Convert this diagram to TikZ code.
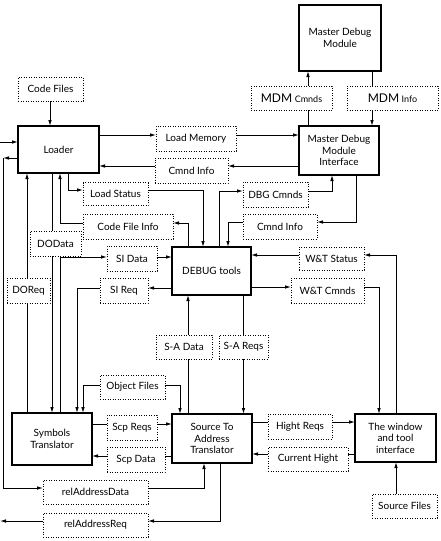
\documentclass[tikz,border=0pt]{standalone}
\usepackage{fontspec}
\setmainfont{Lato}
\usetikzlibrary{arrows.meta}
\begin{document}
\begin{tikzpicture}[x=1pt,y=-1pt,
  solidbox/.style={draw,line width=1.1pt,inner sep=0pt,outer sep=0pt,align=center,font=\fontsize{10}{11.5}\selectfont},
  dotbox/.style={draw,line width=0.8pt,dash pattern=on 0.8pt off 1.7pt,inner sep=0pt,outer sep=0pt,align=center,font=\fontsize{10}{12}\selectfont},
  conn/.style={line width=0.9pt},
  arr/.style={conn,-{Latex[length=6pt,width=3.6pt]}}]
\useasboundingbox (0,0) rectangle (440,541);
% solid boxes
\node[solidbox,line width=2.6pt,minimum width=82pt,minimum height=66pt] (mdm) at (340,38) {Master Debug\\Module};
\node[solidbox,minimum width=80pt,minimum height=49pt] (mdmi) at (339,150.5) {Master Debug\\Module\\Interface};
\node[solidbox,minimum width=81pt,minimum height=47pt] (loader) at (58.5,149.5) {Loader};
\node[solidbox,minimum width=79pt,minimum height=48pt] (debug) at (211.5,271) {DEBUG tools};
\node[solidbox,minimum width=80pt,minimum height=52pt] (symb) at (52,439) {Symbols\\Translator};
\node[solidbox,minimum width=80pt,minimum height=49pt] (sat) at (212,438.5) {Source To\\Address\\Translator};
\node[solidbox,minimum width=81pt,minimum height=48pt] (win) at (395.5,438) {The window\\and tool\\interface};
% dotted boxes
\node[dotbox,minimum width=65pt,minimum height=24pt] (codefiles) at (50.5,89) {Code Files};
\node[dotbox,minimum width=81pt,minimum height=24pt] (mdmcmnds) at (291.5,98) {{\large MDM} {\small Cmnds}};
\node[dotbox,minimum width=91pt,minimum height=24pt] (mdminfo) at (392.5,98) {{\large MDM} {\small Info}};
\node[dotbox,minimum width=80pt,minimum height=25pt] (loadmem) at (196,138.5) {Load Memory};
\node[dotbox,minimum width=73pt,minimum height=25pt] (cmndinfoA) at (191.5,170.5) {Cmnd Info};
\node[dotbox,minimum width=65pt,minimum height=23pt] (loadstatus) at (115.5,194) {Load Status};
\node[dotbox,minimum width=90pt,minimum height=25pt] (codefileinfo) at (128,226.5) {Code File Info};
\node[dotbox,minimum width=65pt,minimum height=25pt] (dbgcmnds) at (275.5,194.5) {DBG Cmnds};
\node[dotbox,minimum width=74pt,minimum height=25pt] (cmndinfoB) at (280,226.5) {Cmnd Info};
\node[dotbox,minimum width=51pt,minimum height=25pt] (dodata) at (55.5,243.5) {DOData};
\node[dotbox,minimum width=50pt,minimum height=25pt] (sidata) at (132,258.5) {SI Data};
\node[dotbox,minimum width=48pt,minimum height=25pt] (sireq) at (124,290.5) {SI Req};
\node[dotbox,minimum width=43pt,minimum height=25pt] (doreq) at (28.5,290.5) {DOReq};
\node[dotbox,minimum width=65pt,minimum height=23pt] (wtstatus) at (331.5,258.5) {W\&T Status};
\node[dotbox,minimum width=73pt,minimum height=25pt] (wtcmnds) at (327.5,290.5) {W\&T Cmnds};
\node[dotbox,minimum width=56pt,minimum height=24pt] (sadata) at (184,347) {S-A Data};
\node[dotbox,minimum width=49pt,minimum height=24pt] (sareqs) at (243.5,347) {S-A Reqs};
\node[dotbox,minimum width=65pt,minimum height=24pt] (objfiles) at (132.5,387) {Object Files};
\node[dotbox,minimum width=50pt,minimum height=25pt] (scpreqs) at (132,427.5) {Scp Reqs};
\node[dotbox,minimum width=58pt,minimum height=25pt] (scpdata) at (136,459.5) {Scp Data};
\node[dotbox,minimum width=105pt,minimum height=24pt] (reldata) at (95.5,492) {relAddressData};
\node[dotbox,minimum width=105pt,minimum height=24pt] (relreq) at (95.5,525) {relAddressReq};
\node[dotbox,minimum width=64pt,minimum height=25pt] (hightreqs) at (300,426.5) {Hight Reqs};
\node[dotbox,minimum width=80pt,minimum height=24pt] (currhight) at (308,459) {Current Hight};
\node[dotbox,minimum width=65pt,minimum height=24pt] (srcfiles) at (404.5,506) {Source Files};
% free ends
\coordinate (inL) at (0,142);
\coordinate (outL) at (0,521);
\coordinate (lcorner) at (3,158);
% connectors
\draw[arr] (codefiles.south -| 50,0) -- (loader.north -| 50,0);
\draw[arr] (inL) -- (loader.west |- inL);
\draw[arr] (loader.west |- lcorner) -- (lcorner);
\draw[arr] (lcorner) |- (reldata.west |- 0,488);
\draw[arr] (reldata.east |- 0,488) -| (sat.south -| 204,0);
\draw[arr] (sat.south -| 220,0) |- (relreq.east |- 0,521);
\draw[arr] (relreq.west |- outL) -- (outL);
\draw[arr] (loader.east |- 0,135) -- (loadmem.west |- 0,135);
\draw[arr] (loadmem.east |- 0,135) -- (mdmi.west |- 0,135);
\draw[arr] (mdmi.west |- 0,166) -- (cmndinfoA.east |- 0,166);
\draw[arr] (cmndinfoA.west |- 0,166) -- (loader.east |- 0,166);
\draw[conn] (mdmi.north -| 308,0) -- (mdmcmnds.south -| 308,0);
\draw[arr] (mdmcmnds.north -| 308,0) -- (mdm.south -| 308,0);
\draw[conn] (mdm.south -| 372,0) -- (mdminfo.north -| 372,0);
\draw[arr] (mdminfo.south -| 372,0) -- (mdmi.north -| 372,0);
\draw[arr] (dbgcmnds.east |- 0,191) -| (mdmi.south -| 332,0);
\draw[arr] (debug.north -| 219,0) |- (dbgcmnds.west |- 0,191);
\draw[arr] (mdmi.south -| 356,0) |- (cmndinfoB.east |- 0,222);
\draw[arr] (cmndinfoB.west |- 0,222) -| (debug.north -| 228,0);
\draw[arr] (loader.south -| 68,0) |- (loadstatus.west |- 0,190);
\draw[arr] (loadstatus.east |- 0,190) -| (debug.north -| 203,0);
\draw[arr] (debug.north -| 188,0) |- (codefileinfo.east |- 0,223);
\draw[arr] (codefileinfo.west |- 0,223) -| (loader.south -| 60,0);
\draw[conn] (symb.north -| 27,0) -- (doreq.south -| 27,0);
\draw[arr] (doreq.north -| 27,0) -- (loader.south -| 27,0);
\draw[conn] (loader.south -| 52,0) -- (dodata.north -| 52,0);
\draw[arr] (dodata.south -| 52,0) -- (symb.north -| 52,0);
\draw[arr] (symb.north -| 60,0) |- (sidata.west |- 0,257);
\draw[arr] (sidata.east |- 0,257) -- (debug.west |- 0,257);
\draw[arr] (debug.west |- 0,288) -- (sireq.east |- 0,288);
\draw[arr] (sireq.west |- 0,288) -| (symb.north -| 77,0);
\draw[arr] (objfiles.west |- 0,385) -| (symb.north -| 83,0);
\draw[arr] (objfiles.east |- 0,385) -| (sat.north -| 180,0);
\draw[conn] (sat.north -| 188,0) -- (sadata.south -| 188,0);
\draw[arr] (sadata.north -| 188,0) -- (debug.south -| 188,0);
\draw[conn] (debug.south -| 243.5,0) -- (sareqs.north);
\draw[arr] (sareqs.south) -- (sat.north -| 243.5,0);
\draw[conn] (symb.east |- 0,424) -- (scpreqs.west |- 0,424);
\draw[arr] (scpreqs.east |- 0,424) -- (sat.west |- 0,424);
\draw[conn] (sat.west |- 0,456) -- (scpdata.east |- 0,456);
\draw[arr] (scpdata.west |- 0,456) -- (symb.east |- 0,456);
\draw[conn] (sat.east |- 0,422) -- (hightreqs.west |- 0,422);
\draw[arr] (hightreqs.east |- 0,422) -- (win.west |- 0,422);
\draw[conn] (win.west |- 0,454) -- (currhight.east |- 0,454);
\draw[arr] (currhight.west |- 0,454) -- (sat.east |- 0,454);
\draw[arr] (win.north -| 396,0) |- (wtstatus.east |- 0,255);
\draw[arr] (wtstatus.west |- 0,255) -- (debug.east |- 0,255);
\draw[arr] (debug.east |- 0,287) -- (wtcmnds.west |- 0,287);
\draw[arr] (wtcmnds.east |- 0,287) -| (win.north -| 379,0);
\draw[arr] (srcfiles.north -| 396,0) -- (win.south -| 396,0);
\end{tikzpicture}
\end{document}
